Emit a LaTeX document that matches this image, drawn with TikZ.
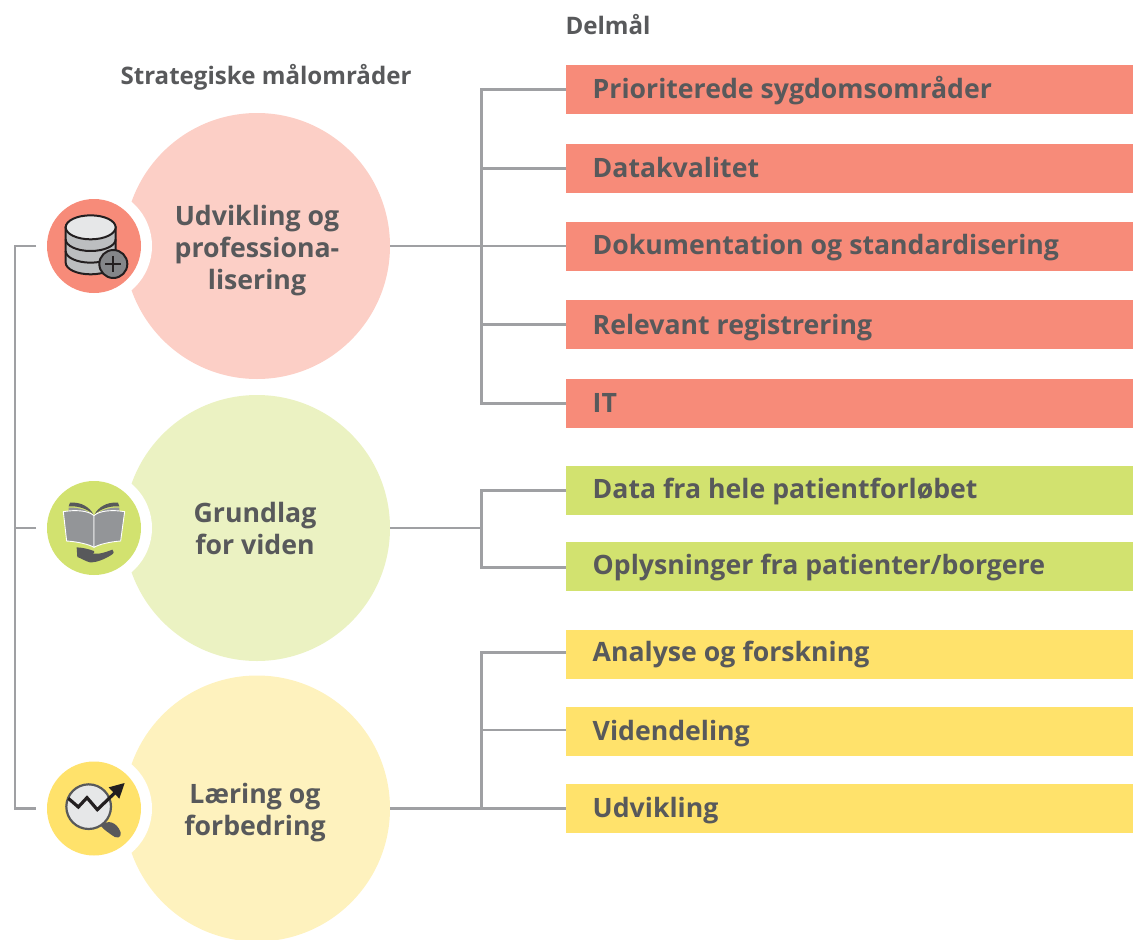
\documentclass[tikz,border=0pt]{standalone}
\usepackage{fontspec}
\setmainfont{Open Sans}
\definecolor{txt}{HTML}{58595B}
\definecolor{conn}{HTML}{9FA0A3}
\definecolor{redbar}{HTML}{F78B79}
\definecolor{redbig}{HTML}{FCCFC6}
\definecolor{greenbar}{HTML}{D2E26F}
\definecolor{greenbig}{HTML}{EBF2C2}
\definecolor{yellowbar}{HTML}{FFE26B}
\definecolor{yellowbig}{HTML}{FEF2BE}
\definecolor{inkdark}{HTML}{231F20}
\definecolor{greylight}{HTML}{E6E7E8}
\definecolor{greymid}{HTML}{BCBEC0}
\definecolor{greybook}{HTML}{939598}
\begin{document}
\begin{tikzpicture}[x=1pt, y=-1pt,
		big/.style={circle, minimum size=266pt, inner sep=0pt},
		bigtext/.style={inner sep=0pt, align=center, text=txt, font=\fontsize{26.7}{32}\selectfont\bfseries},
		ring/.style={circle, fill=white, minimum size=116pt, inner sep=0pt},
		icon/.style={circle, minimum size=94pt, inner sep=0pt},
		bar/.style={rectangle, anchor=west, minimum height=49pt, text width=514pt, inner xsep=26.5pt, inner ysep=0pt, align=left, text=txt, text depth=0pt, font=\fontsize{26.65}{32}\selectfont\bfseries, execute at begin node={\spaceskip=7pt\relax}},
		head/.style={text=txt, inner sep=0pt, font=\fontsize{24.1}{28}\selectfont\bfseries},
		line/.style={draw=conn, line width=2.6pt}]
		\useasboundingbox (0,0) rectangle (1141,940);
		\node[head] (delmaal) at (608,24.5) {Delmål};
		\node[head] (strategi) at (266,77.5) {Strategiske målområder};

		\node[big, fill=redbig] (udv) at (257,246) {};
		\node[big, fill=greenbig] (grund) at (257,528) {};
		\node[big, fill=yellowbig] (laer) at (257,808.5) {};
		\node[bigtext] (udvtxt) at (257,247) {Udvikling og\\professiona-\\\smash{lisering}};
		\node[bigtext] (grundtxt) at (255,528) {Grundlag\\for viden};
		\node[bigtext] (laertxt) at (255,809.5) {Læring og\\\smash{forbedring}};
		\node[ring] at (94,246) {};
		\node[ring] at (94,528) {};
		\node[ring] at (94,808.5) {};
		\node[icon, fill=redbar] (iconA) at (94,246) {};
		\node[icon, fill=greenbar] (iconB) at (94,528) {};
		\node[icon, fill=yellowbar] (iconC) at (94,808.5) {};

		\node[bar, fill=redbar, text height=17.6pt] (r1) at (566,89.5) {Prioriterede sygdomsområder};
		\node[bar, fill=redbar, text height=18pt] (r2) at (566,168.5) {Datakvalitet};
		\node[bar, fill=redbar, text height=15.4pt] (r3) at (566,246.5) {Dokumentation og standardisering};
		\node[bar, fill=redbar, text height=19.6pt] (r4) at (566,324.5) {Relevant registrering};
		\node[bar, fill=redbar, text height=17.4pt] (r5) at (566,403.5) {IT};
		\node[bar, fill=greenbar, text height=16.2pt] (g1) at (566,490.5) {Data fra hele patientforløbet};
		\node[bar, fill=greenbar, text height=15.4pt] (g2) at (566,566.5) {Oplysninger fra patienter/borgere};
		\node[bar, fill=yellowbar, text height=13pt] (y1) at (566,654.5) {Analyse og forskning};
		\node[bar, fill=yellowbar, text height=17pt] (y2) at (566,731.5) {Videndeling};
		\node[bar, fill=yellowbar, text height=18pt] (y3) at (566,808.5) {Udvikling};

		\coordinate (busA) at (481.7,246);
		\coordinate (busB) at (481.7,528);
		\coordinate (busC) at (481.7,808.5);
		\coordinate (spine) at (15,528);
		\coordinate (stubA) at (36,246);
		\coordinate (stubB) at (36,528);
		\coordinate (stubC) at (36,808.5);

		\draw[line] (udv.east) -- (busA);
		\draw[line] (busA) -- (busA -| r3.west);
		\draw[line] (r1.west) -| (busA) |- (r5.west);
		\draw[line] (r2.west) -- (r2.west -| busA);
		\draw[line] (r4.west) -- (r4.west -| busA);
		\draw[line] (grund.east) -- (busB);
		\draw[line] (g1.west) -| (busB) |- ([yshift=-1.2pt]g2.west);
		\draw[line] (laer.east) -- (y3.west);
		\draw[line] ([yshift=1.8pt]y1.west) -| (busC);
		\draw[line] ([yshift=1.5pt]y2.west) -- ([yshift=1.5pt]y2.west -| busC);
		\draw[line] (stubA) -| (spine) |- (stubC);
		\draw[line] (stubB) -- (spine);

		% database
		\begin{scope}[shift={(0,180)}, scale=0.3333]
			\draw[inkdark, line width=2pt, fill=greymid] (197,142) -- (197,248) arc[x radius=75, y radius=-35, start angle=180, end angle=360] -- (347,142) -- cycle;
			\draw[inkdark, line width=2pt] (197,178) arc[x radius=75, y radius=-35, start angle=180, end angle=360];
			\draw[inkdark, line width=2pt] (197,213) arc[x radius=75, y radius=-35, start angle=180, end angle=360];
			\draw[inkdark, line width=2pt, fill=greylight] (272,142) ellipse[x radius=75, y radius=36];
			\draw[inkdark, line width=2pt, fill=greybook!90!black] (340,252) circle[radius=42];
			\draw[inkdark, line width=1.8pt] (340,228) -- (340,276) (316,252) -- (364,252);
		\end{scope}

		% book and hand
		\begin{scope}[shift={(0,465)}, scale=0.3333]
			\fill[txt] (210,113) .. controls (245,110) and (270,128) .. (280,148) .. controls (262,132) and (235,122) .. (206,124) -- cycle;
			\fill[txt] (354,113) .. controls (319,110) and (294,128) .. (284,148) .. controls (302,132) and (329,122) .. (358,124) -- cycle;
			\fill[greybook] (206,128) .. controls (235,126) and (265,136) .. (280,152) -- (206,140) -- cycle;
			\fill[greybook] (358,128) .. controls (329,126) and (299,136) .. (284,152) -- (358,140) -- cycle;
			\draw[white, line width=0.9pt, fill=greybook] (190,140) .. controls (225,134) and (265,136) .. (282,152) -- (282,247) .. controls (265,237) and (230,230) .. (200,228) -- cycle;
			\draw[white, line width=0.9pt, fill=greybook] (374,140) .. controls (339,134) and (299,136) .. (282,152) -- (282,247) .. controls (299,237) and (334,230) .. (362,228) -- cycle;
			\fill[txt] (230,247) .. controls (250,248) and (265,252) .. (282,258) .. controls (286,262) and (282,266) .. (272,266) -- (296,266) .. controls (312,264) and (326,258) .. (337,254) .. controls (344,257) and (342,266) .. (334,270) .. controls (315,282) and (290,293) .. (270,292) .. controls (258,290) and (245,280) .. (232,276) -- cycle;
		\end{scope}

		% magnifier and arrow
		\begin{scope}[shift={(0,745)}, scale=0.3333]
			\fill[txt] (303,243) .. controls (322,222) and (350,230) .. (362,262) .. controls (366,280) and (348,282) .. (335,270) .. controls (325,262) and (312,255) .. (303,243) -- cycle;
			\draw[txt, line width=2.2pt, fill=greylight] (266,185) circle[radius=67];
			\draw[inkdark, line width=3.2pt] (205,160) -- (235,186) -- (261,158) -- (292,194) -- (345,143);
			\fill[inkdark] (374,114) -- (326,127) -- (358,161) -- cycle;
		\end{scope}
	\end{tikzpicture}
\end{document}
